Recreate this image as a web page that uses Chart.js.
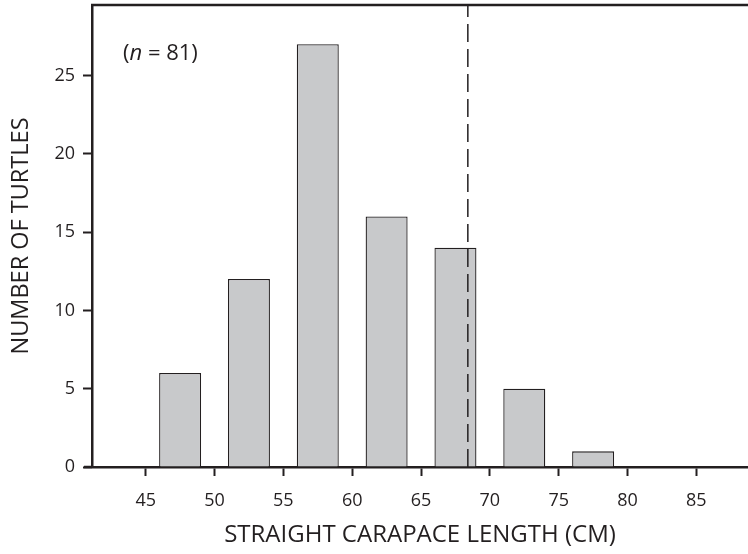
<!DOCTYPE html>
<html>
<head>
<meta charset="utf-8">
<script src="https://cdn.jsdelivr.net/npm/chart.js@4.4.0/dist/chart.umd.min.js"></script>
<style>
    html, body { margin: 0; padding: 0; background: #fff; }
    #wrap { width: 748px; height: 554px; }
</style>
</head>
<body>
<div id="wrap"><canvas id="grafica" width="748" height="554"></canvas></div>
<script>
// datos del histograma
const centrosClase = [47.5, 52.5, 57.5, 62.5, 67.5, 72.5, 77.5];
const tortugas = [6, 12, 27, 16, 14, 5, 1];
const ticksX = [45, 50, 55, 60, 65, 70, 75, 80, 85];
const ticksY = [0, 5, 10, 15, 20, 25];
const mediaLongitud = 68.4;
const totalTortugas = 81;

const FUENTE = "'Open Sans', 'Noto Sans', sans-serif";
const TINTA = "#231f20";

// marco superior y texto (n = 81)
const extras = {
    id: "extras",
    afterDraw(chart) {
        const ctx = chart.ctx;
        const a = chart.chartArea;
        ctx.save();
        ctx.strokeStyle = TINTA;
        ctx.lineWidth = 2.5;
        ctx.beginPath();
        ctx.moveTo(a.left - 1, a.top);
        ctx.lineTo(a.right, a.top);
        ctx.stroke();

        // el eje x sobresale un poco a la izquierda
        ctx.beginPath();
        ctx.moveTo(a.left - 8, a.bottom);
        ctx.lineTo(a.left, a.bottom);
        ctx.stroke();

        ctx.fillStyle = TINTA;
        ctx.textBaseline = "alphabetic";
        let x = a.left + 31;
        const y = a.top + 55;
        ctx.font = "22px " + FUENTE;
        ctx.fillText("(", x, y);
        x += ctx.measureText("(").width;
        ctx.font = "italic 22px " + FUENTE;
        ctx.fillText("n", x, y);
        x += ctx.measureText("n").width;
        ctx.font = "22px " + FUENTE;
        ctx.fillText(" = " + totalTortugas + ")", x, y);
        ctx.restore();
    }
};

const ctx = document.getElementById("grafica").getContext("2d");

new Chart(ctx, {
    data: {
        datasets: [{
            type: "bar",
            data: centrosClase.map((c, i) => ({ x: c, y: tortugas[i] })),
            backgroundColor: "#c8c9cb",
            borderColor: TINTA,
            borderWidth: 1.3,
            barPercentage: 0.61,
            categoryPercentage: 1,
            order: 2
        }, {
            type: "line",
            data: [{ x: mediaLongitud, y: 0 }, { x: mediaLongitud, y: 29.5 }],
            borderColor: TINTA,
            borderWidth: 1.5,
            borderDash: [18, 7],
            pointRadius: 0,
            fill: false,
            order: 1
        }]
    },
    options: {
        responsive: false,
        animation: false,
        layout: { padding: { top: 5, right: 0, left: 0, bottom: 0 } },
        plugins: {
            legend: { display: false },
            tooltip: { enabled: false }
        },
        scales: {
            x: {
                type: "linear",
                min: 41.1,
                max: 88.75,
                offset: false,
                afterBuildTicks: s => { s.ticks = ticksX.map(v => ({ value: v })); },
                afterFit: s => { s.height = 87; s.paddingLeft = 0; s.paddingRight = 0; },
                grid: { offset: false, drawOnChartArea: false, drawTicks: true, tickLength: 9, tickColor: TINTA, tickWidth: 2 },
                border: { color: TINTA, width: 2.5 },
                ticks: { color: TINTA, font: { family: FUENTE, size: 18 }, padding: 14, maxRotation: 0 },
                title: {
                    display: true,
                    text: "STRAIGHT CARAPACE LENGTH (CM)",
                    color: TINTA,
                    font: { family: FUENTE, size: 24 },
                    padding: { top: 9 }
                }
            },
            y: {
                min: 0,
                max: 29.5,
                afterBuildTicks: s => { s.ticks = ticksY.map(v => ({ value: v })); },
                afterFit: s => { s.width = 92; s.paddingTop = 0; s.paddingBottom = 0; },
                grid: { drawOnChartArea: false, drawTicks: true, tickLength: 9, tickColor: TINTA, tickWidth: 2 },
                border: { color: TINTA, width: 2.5 },
                ticks: { color: TINTA, font: { family: FUENTE, size: 18 }, padding: 8 },
                title: {
                    display: true,
                    text: "NUMBER OF TURTLES",
                    color: TINTA,
                    font: { family: FUENTE, size: 23.5 },
                    padding: { top: 7, bottom: 1 }
                }
            }
        }
    },
    plugins: [extras]
});
</script>
</body>
</html>
